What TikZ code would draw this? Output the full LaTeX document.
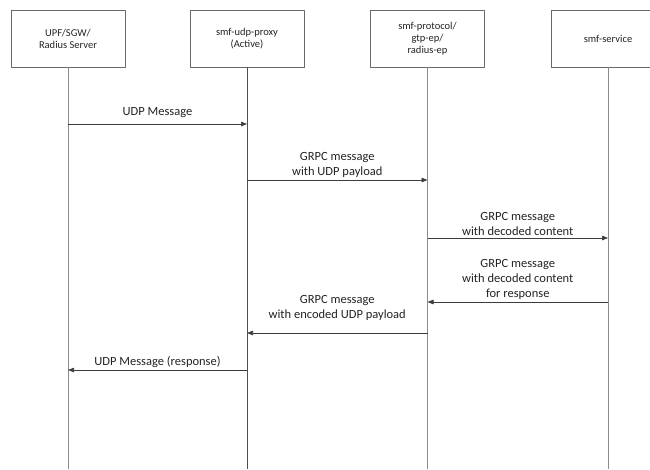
\documentclass[tikz,border=0pt]{standalone}
\usepackage{fontspec}
\setmainfont{Carlito}
\usetikzlibrary{arrows.meta,calc}
\definecolor{boxgray}{RGB}{105,105,105}
\definecolor{lifegray}{RGB}{140,140,140}
\definecolor{lifedark}{RGB}{80,80,80}
\definecolor{msgblack}{RGB}{60,60,60}
\definecolor{textblack}{RGB}{35,35,35}

\begin{document}
\begin{tikzpicture}[x=1pt, y=-1pt, line join=bevel,
                entitybox/.style={draw=boxgray, line width=0.8pt, minimum width=114pt, minimum height=57pt, align=center, font=\fontsize{10.5}{12}\selectfont, text=textblack},
                lifeline/.style={line width=1pt},
                msgline/.style={draw=msgblack, line width=0.7pt, -{Triangle[length=6pt, width=4.5pt]}},
                msgtext/.style={align=center, font=\fontsize{12.5}{15}\selectfont, text=textblack, inner sep=0pt}]
            \useasboundingbox (0,0) rectangle (650,469);
            % Entities
            \node[entitybox] (upf) at (68,38.5) {UPF/SGW/\\Radius Server};
            \node[entitybox] (proxy) at (247,38.5) {smf-udp-proxy\\(Active)};
            \node[entitybox] (proto) at (427.5,38.5) {smf-protocol/\\gtp-ep/\\radius-ep};
            \node[entitybox] (service) at (608,38.5) {smf-service};
            % Lifelines
        \foreach \n/\c in {upf/lifegray, proxy/lifedark, proto/lifegray, service/lifegray} {
            \coordinate (\n-end) at (\n.south |- 0,469);
            \draw[\c, lifeline] (\n.south) -- (\n-end);
        }
        % Messages
        \foreach \a/\b/\y/\ty/\txt [count=\i] in {
            upf/proxy/124/113/{UDP Message},
            proxy/proto/180/164.5/{GRPC message\\with UDP payload},
            proto/service/238/223.5/{GRPC message\\with decoded content},
            service/proto/302/279/{GRPC message\\with decoded content\\for response},
            proto/proxy/333/307.5/{GRPC message\\with encoded UDP payload},
            proxy/upf/370/362/{UDP Message (response)}} {
            \coordinate (s\i) at (\a.south |- 0,\y);
            \coordinate (e\i) at (\b.south |- 0,\y);
            \draw[msgline] (s\i) -- (e\i);
            \node[msgtext] (m\i) at ($(s\i)!0.5!(e\i) + (0,\ty-\y)$) {\txt};
        }
            \end{tikzpicture}
\end{document}
